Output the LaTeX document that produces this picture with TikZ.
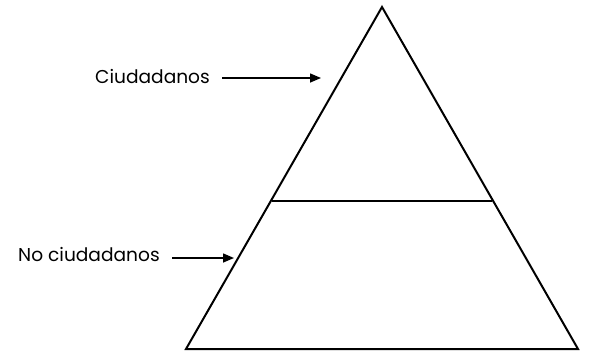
\documentclass[tikz,border=0pt]{standalone}
\usepackage{fontspec}
\setmainfont{Poppins}
\usetikzlibrary{arrows.meta}
\begin{document}
\begin{tikzpicture}[x=1pt,y=-1pt,
  outline/.style={line width=2pt,line join=miter},
  pointer/.style={line width=1.5pt,-{Triangle[length=11pt,width=9pt]}},
  lbl/.style={font=\fontsize{18.6}{22}\selectfont,inner sep=0pt,anchor=west}]
\useasboundingbox (0,0) rectangle (589,351);
\coordinate (apex) at (382,7);
\coordinate (bl) at (186,349);
\coordinate (br) at (578,349);
\coordinate (ml) at (272,201);
\coordinate (mr) at (492,201);
\draw[outline] (apex) -- (bl) -- (br) -- cycle;
\draw[outline] (ml) -- (mr);
\node[lbl] (c) at (95,77) {Ciudadanos};
\coordinate (cs) at (222,78);
\coordinate (ct) at (321,78);
\draw[pointer] (cs) -- (ct);
\node[lbl] (nc) at (18,255) {No ciudadanos};
\coordinate (ncs) at (172,258);
\coordinate (nct) at (234,258);
\draw[pointer] (ncs) -- (nct);
\end{tikzpicture}
\end{document}
